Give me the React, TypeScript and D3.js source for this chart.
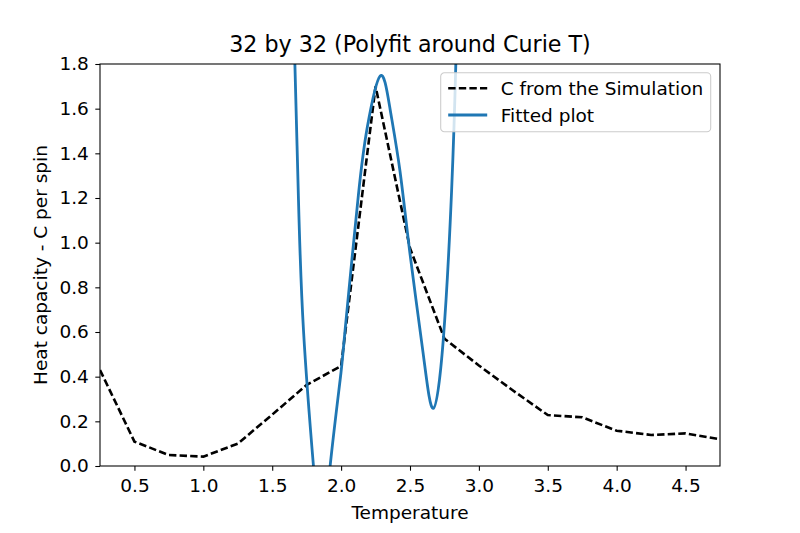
import React, { useEffect, useRef } from 'react';
import * as d3 from 'd3';

// Heat capacity per spin from the Monte Carlo run (32 x 32 lattice)
const simTemps = [0.25, 0.5, 0.75, 1.0, 1.25, 1.5, 1.75, 2.0, 2.25, 2.5, 2.75, 3.0, 3.25, 3.5, 3.75, 4.0, 4.25, 4.5, 4.75];
const simHeat = [0.43, 0.109, 0.049, 0.042, 0.10, 0.23, 0.363, 0.448, 1.70, 0.975, 0.57, 0.45, 0.337, 0.228, 0.218, 0.158, 0.139, 0.146, 0.12];

// Polynomial fit around the Curie temperature, sampled along the curve
const fitTemps = [1.64, 1.6645, 1.6906, 1.7268, 1.7993, 1.859, 1.9203, 1.9928, 2.029, 2.1254, 2.1906, 2.2826, 2.355, 2.4275, 2.5, 2.5964, 2.6688, 2.7413, 2.8022, 2.8333, 2.85];
const fitHeat = [2.3, 1.80, 1.191, 0.609, 0.0, -0.29, 0.0, 0.385, 0.609, 1.213, 1.519, 1.746, 1.60, 1.32, 0.95, 0.50, 0.258, 0.564, 1.236, 1.818, 2.3];

const xTicks = [0.5, 1.0, 1.5, 2.0, 2.5, 3.0, 3.5, 4.0, 4.5];
const yTicks = [0.0, 0.2, 0.4, 0.6, 0.8, 1.0, 1.2, 1.4, 1.6, 1.8];

const legendLabels = ['C from the Simulation', 'Fitted plot'];

const FONT = '"DejaVu Sans", sans-serif';
const BLUE = '#1f77b4';

function HeatCapacityChart() {
  const svgRef = useRef<SVGSVGElement>(null);

  useEffect(() => {
    const svg = d3.select(svgRef.current);
    svg.selectAll('*').remove();

    const width = 800;
    const height = 533;
    const margin = { top: 64, right: 80, bottom: 67, left: 100 };
    const innerWidth = width - margin.left - margin.right;
    const innerHeight = height - margin.top - margin.bottom;

    svg.attr('width', width).attr('height', height);

    const xScale = d3.scaleLinear().domain([0.25, 4.75]).range([0, innerWidth]);
    const yScale = d3.scaleLinear().domain([0, 1.8]).range([innerHeight, 0]);

    svg.append('rect').attr('width', width).attr('height', height).attr('fill', '#fff');

    svg.append('defs').append('clipPath')
      .attr('id', 'plot-clip')
      .append('rect')
      .attr('width', innerWidth)
      .attr('height', innerHeight);

    const g = svg.append('g').attr('transform', `translate(${margin.left},${margin.top})`);

    // lines
    const simLine = d3.line<number>()
      .x((d, i) => xScale(simTemps[i]))
      .y(d => yScale(d));

    const fitLine = d3.line<number>()
      .x((d, i) => xScale(fitTemps[i]))
      .y(d => yScale(d))
      .curve(d3.curveNatural);

    const plot = g.append('g').attr('clip-path', 'url(#plot-clip)');

    plot.append('path')
      .datum(simHeat)
      .attr('d', simLine)
      .attr('fill', 'none')
      .attr('stroke', '#000')
      .attr('stroke-width', 2.6)
      .attr('stroke-dasharray', '7.4,3.2');

    plot.append('path')
      .datum(fitHeat)
      .attr('d', fitLine)
      .attr('fill', 'none')
      .attr('stroke', BLUE)
      .attr('stroke-width', 2.8);

    // axes
    const xAxis = g.append('g')
      .attr('transform', `translate(0,${innerHeight})`)
      .call(d3.axisBottom(xScale).tickValues(xTicks).tickFormat(d3.format('.1f')).tickSize(4.7).tickSizeOuter(0).tickPadding(8));

    const yAxis = g.append('g')
      .call(d3.axisLeft(yScale).tickValues(yTicks).tickFormat(d3.format('.1f')).tickSize(4.7).tickSizeOuter(0).tickPadding(6.5));

    [xAxis, yAxis].forEach(ax => {
      ax.select('.domain').remove();
      ax.selectAll('line').attr('stroke', '#000').attr('stroke-width', 1.07);
      ax.selectAll('text')
        .attr('fill', '#000')
        .style('font-family', FONT)
        .style('font-size', '18.5px');
    });

    // frame
    g.append('rect')
      .attr('width', innerWidth)
      .attr('height', innerHeight)
      .attr('fill', 'none')
      .attr('stroke', '#000')
      .attr('stroke-width', 1.07);

    // titles
    svg.append('text')
      .attr('x', margin.left + innerWidth / 2)
      .attr('y', 52)
      .attr('text-anchor', 'middle')
      .style('font-family', FONT)
      .style('font-size', '22.2px')
      .text('32 by 32 (Polyfit around Curie T)');

    svg.append('text')
      .attr('x', margin.left + innerWidth / 2)
      .attr('y', 519)
      .attr('text-anchor', 'middle')
      .style('font-family', FONT)
      .style('font-size', '18.5px')
      .text('Temperature');

    svg.append('text')
      .attr('transform', `translate(46.5,${margin.top + innerHeight / 2}) rotate(-90)`)
      .attr('text-anchor', 'middle')
      .style('font-family', FONT)
      .style('font-size', '18.5px')
      .text('Heat capacity - C per spin');

    // legend
    const legend = svg.append('g').attr('transform', 'translate(440.7,72.7)');
    legend.append('rect')
      .attr('width', 270)
      .attr('height', 59)
      .attr('rx', 3.7)
      .attr('fill', '#fff')
      .attr('fill-opacity', 0.8)
      .attr('stroke', '#cccccc')
      .attr('stroke-width', 1.07);

    const items = legend.selectAll('.legend-item')
      .data(legendLabels)
      .enter()
      .append('g')
      .attr('class', 'legend-item')
      .attr('transform', (d, i) => `translate(0,${15.6 + i * 26.7})`);

    items.append('line')
      .attr('x1', 7.5)
      .attr('x2', 46.5)
      .attr('stroke', (d, i) => (i === 0 ? '#000' : BLUE))
      .attr('stroke-width', (d, i) => (i === 0 ? 2.6 : 2.8))
      .attr('stroke-dasharray', (d, i) => (i === 0 ? '7.4,3.2' : null));

    items.append('text')
      .attr('x', 60)
      .attr('y', 6.6)
      .style('font-family', FONT)
      .style('font-size', '18.5px')
      .text(d => d);
  }, []);

  return <svg ref={svgRef} style={{ position: 'absolute', left: 0, top: 0, display: 'block' }} />;
}

export default function App() {
  return (
    <div>
      <HeatCapacityChart />
    </div>
  );
}
